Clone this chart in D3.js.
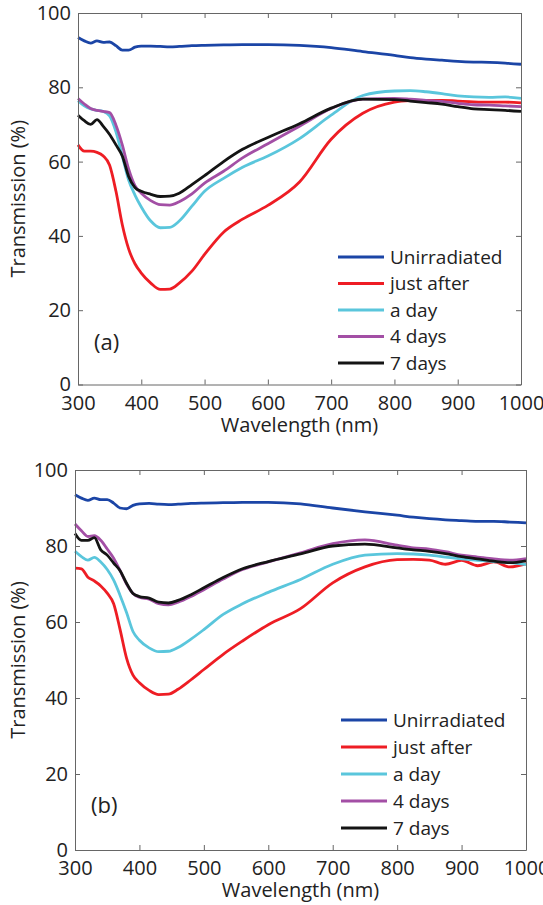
<!doctype html>
<html>
<head>
<meta charset="utf-8">
<title>Transmission spectra</title>
<script src="https://d3js.org/d3.v7.min.js"></script>
<style>
  body { margin: 0; background: #fff; }
  svg { display: block; font-family: "Open Sans", sans-serif; }
  .axis path, .axis line { stroke: #666; stroke-width: 1; }
  .axis text { fill: #222; font-size: 20px; font-family: "Open Sans", sans-serif; }
</style>
</head>
<body>
<svg id="chart" width="543" height="905"></svg>
<script>
// wavelengths (nm) at which values were read
const wavelength = [300,310,320,330,340,350,360,370,380,390,400,415,430,445,460,480,500,530,560,600,650,700,750,800,825,850,875,900,925,950,975,1000];

const seriesNames = ["Unirradiated", "just after", "a day", "4 days", "7 days"];
const seriesColors = ["#1b45a6", "#ee1d24", "#5ac6dc", "#a34fa5", "#141414"];

const xTicks = [300,400,500,600,700,800,900,1000];
const yTicks = [0,20,40,60,80,100];

// panel (a)
const a_unirr = [93.4,92.5,91.9,92.5,92.1,92.2,91.2,90.0,90.0,90.8,91.1,91.1,91.0,90.9,91.0,91.2,91.3,91.4,91.5,91.5,91.3,90.7,89.6,88.6,88.0,87.6,87.3,87.0,86.8,86.7,86.5,86.2];
const a_after = [64.5,62.8,62.8,62.5,61.5,59.0,52.0,43.0,36.5,32.5,30.0,27.3,25.6,25.7,27.3,30.5,35.0,41.0,44.5,48.2,54.5,66.0,73.0,76.0,76.4,76.5,76.5,76.3,76.1,76.0,76.0,75.8];
const a_day = [76.4,75.0,74.2,73.8,73.5,72.3,68.0,61.5,55.0,51.0,47.8,44.0,42.2,42.3,44.0,48.0,52.0,55.5,58.5,61.5,66.2,72.5,77.8,79.0,79.1,78.8,78.3,77.7,77.4,77.3,77.4,77.0];
const a_4days = [77.0,75.5,74.3,73.8,73.5,73.2,69.8,64.5,58.0,53.5,51.5,49.5,48.4,48.3,49.2,51.3,54.2,57.4,61.0,64.8,69.5,74.3,76.8,77.0,76.8,76.5,76.2,75.7,75.3,75.2,75.0,74.8];
const a_7days = [72.5,71.0,70.0,71.3,69.5,67.3,64.5,61.5,56.0,53.0,52.0,51.2,50.6,50.7,51.5,53.8,56.2,60.0,63.3,66.5,70.2,74.4,76.8,76.7,76.3,75.9,75.5,74.8,74.2,74.0,73.8,73.5];

// panel (b)
const b_unirr = [93.5,92.6,92.0,92.6,92.2,92.2,91.3,90.0,89.8,90.7,91.1,91.2,91.0,90.9,91.0,91.2,91.3,91.4,91.5,91.5,91.1,90.0,89.0,88.1,87.6,87.2,86.9,86.7,86.5,86.5,86.3,86.1];
const b_after = [74.2,74.0,71.8,70.8,69.5,67.6,64.8,58.0,50.5,46.0,44.0,42.0,40.9,41.0,42.3,44.8,47.5,51.5,55.0,59.3,63.5,70.3,74.5,76.4,76.5,76.3,75.2,76.2,74.8,75.8,74.5,75.3];
const b_day = [78.6,77.2,76.3,77.0,75.8,73.8,71.0,67.0,62.5,57.5,55.2,53.2,52.2,52.3,53.3,55.5,58.0,62.0,64.8,67.8,71.2,75.2,77.6,78.0,77.9,77.6,77.1,76.6,76.2,75.9,75.6,75.1];
const b_4days = [85.8,84.0,82.5,82.7,81.5,79.2,76.8,73.5,70.0,67.5,66.5,66.0,64.8,64.5,65.2,66.7,68.5,71.3,73.8,75.8,78.2,80.6,81.6,80.2,79.5,79.2,78.5,77.6,77.1,76.6,76.3,76.7];
const b_7days = [83.3,81.5,81.5,82.2,79.0,77.6,75.5,73.5,70.2,67.5,66.7,66.3,65.2,65.0,65.7,67.2,69.0,71.7,74.0,75.9,77.9,80.0,80.5,79.5,79.0,78.6,78.0,77.2,76.6,76.0,75.6,76.1];

const svg = d3.select("#chart");

function drawPanel(p) {
    const x = d3.scaleLinear().domain([300, 1000]).range([p.left, p.right]);
    const y = d3.scaleLinear().domain([0, 100]).range([p.bottom, p.top]);
    const g = svg.append("g");

    // curves first, box on top
    const line = d3.line()
        .x((d, i) => x(wavelength[i]))
        .y(d => y(d))
        .curve(d3.curveMonotoneX);

    p.series.forEach((s, k) => {
        g.append("path")
            .datum(s)
            .attr("d", line)
            .attr("fill", "none")
            .attr("stroke", seriesColors[k])
            .attr("stroke-width", 2.8)
            .attr("stroke-linejoin", "round");
    });

    const tl = 5;
    g.append("g").attr("class", "axis")
        .attr("transform", "translate(0," + p.bottom + ")")
        .call(d3.axisBottom(x).tickValues(xTicks).tickFormat(d3.format("d"))
            .tickSizeInner(-tl).tickSizeOuter(0).tickPadding(11));
    g.append("g").attr("class", "axis")
        .attr("transform", "translate(" + p.left + ",0)")
        .call(d3.axisLeft(y).tickValues(yTicks).tickSizeInner(-tl).tickSizeOuter(0).tickPadding(7));
    g.append("g").attr("class", "axis")
        .attr("transform", "translate(0," + p.top + ")")
        .call(d3.axisTop(x).tickValues(xTicks).tickSizeInner(-tl).tickSizeOuter(0).tickFormat(""));
    g.append("g").attr("class", "axis")
        .attr("transform", "translate(" + p.right + ",0)")
        .call(d3.axisRight(y).tickValues(yTicks).tickSizeInner(-tl).tickSizeOuter(0).tickFormat(""));

    g.append("text")
        .attr("x", (p.left + p.right) / 2)
        .attr("y", p.bottom + 47)
        .attr("text-anchor", "middle")
        .attr("font-size", 20)
        .attr("fill", "#222")
        .text("Wavelength (nm)");

    g.append("text")
        .attr("transform", "translate(25," + (p.top + p.bottom) / 2 + ") rotate(-90)")
        .attr("text-anchor", "middle")
        .attr("font-size", 20)
        .attr("fill", "#222")
        .text("Transmission (%)");

    g.append("text")
        .attr("x", p.labelX)
        .attr("y", p.labelY)
        .attr("font-size", 22)
        .attr("fill", "#222")
        .text(p.label);

    // legend
    const leg = g.append("g");
    seriesNames.forEach((name, k) => {
        const ly = p.legTop + k * p.legStep;
        leg.append("line")
            .attr("x1", p.legX).attr("x2", p.legX + 46)
            .attr("y1", ly).attr("y2", ly)
            .attr("stroke", seriesColors[k])
            .attr("stroke-width", 3);
        leg.append("text")
            .attr("x", p.legX + 52)
            .attr("y", ly)
            .attr("dy", "0.35em")
            .attr("font-size", 19)
            .attr("fill", "#222")
            .text(name);
    });
}

drawPanel({
    left: 78, right: 521, top: 13, bottom: 384.5,
    series: [a_unirr, a_after, a_day, a_4days, a_7days],
    label: "(a)", labelX: 94, labelY: 350,
    legX: 338, legTop: 257, legStep: 26.5
});

drawPanel({
    left: 75, right: 526, top: 470, bottom: 850,
    series: [b_unirr, b_after, b_day, b_4days, b_7days],
    label: "(b)", labelX: 91, labelY: 813,
    legX: 341, legTop: 720, legStep: 27
});
</script>
</body>
</html>
